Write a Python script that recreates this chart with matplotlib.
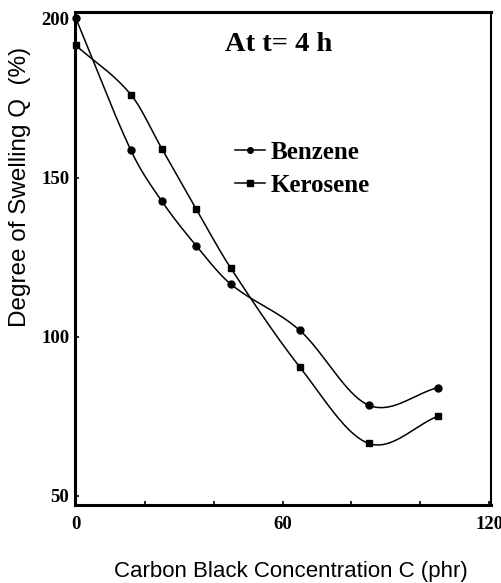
import numpy as np
import matplotlib
matplotlib.use("Agg")
import matplotlib.pyplot as plt
from matplotlib.lines import Line2D

# Carbon black loading (phr) and degree of swelling after 4 h
conc = [0, 16, 25, 35, 45, 65, 85, 105]
benzene = [200, 158.5, 142.5, 128.5, 116.5, 102, 78.5, 84]
kerosene = [191.5, 176, 159, 140, 121.5, 90.5, 66.5, 75]

x_ticks = [0, 60, 120]
y_ticks = [50, 100, 150, 200]


def smooth(x, y, n=40):
    # Catmull-Rom style cubic Hermite through the measured points
    x = np.asarray(x, float)
    y = np.asarray(y, float)
    m = np.zeros_like(y)
    m[1:-1] = (y[2:] - y[:-2]) / (x[2:] - x[:-2])
    m[0] = (y[1] - y[0]) / (x[1] - x[0])
    m[-1] = (y[-1] - y[-2]) / (x[-1] - x[-2])
    xs, ys = [], []
    for i in range(len(x) - 1):
        h = x[i + 1] - x[i]
        t = np.linspace(0, 1, n)
        h00 = 2 * t**3 - 3 * t**2 + 1
        h10 = t**3 - 2 * t**2 + t
        h01 = -2 * t**3 + 3 * t**2
        h11 = t**3 - t**2
        xs.append(x[i] + t * h)
        ys.append(h00 * y[i] + h10 * h * m[i] + h01 * y[i + 1] + h11 * h * m[i + 1])
    return np.concatenate(xs), np.concatenate(ys)


serif = "Liberation Serif"
sans = "Liberation Sans"

fig = plt.figure(figsize=(5.02, 5.83), dpi=100)
ax = fig.add_axes([0.149, 0.134, 0.829, 0.845])

for yv, mk in ((benzene, "o"), (kerosene, "s")):
    sx, sy = smooth(conc, yv)
    ax.plot(sx, sy, color="black", lw=1.1)
    ax.plot(conc, yv, ls="none", marker=mk, ms=5, color="black", clip_on=False)

ax.set_xlim(-0.3, 120.5)
ax.set_ylim(47.2, 201.9)
ax.set_xticks(x_ticks)
ax.set_yticks(y_ticks)
ax.set_xticks([20, 40, 80, 100], minor=True)
ax.tick_params(direction="in", length=3, width=1.2, labelsize=13.5)
ax.tick_params(axis="y", pad=4)
ax.tick_params(axis="x", pad=8)
ax.tick_params(which="minor", direction="in", length=3, width=1.2)
for lab in ax.get_xticklabels() + ax.get_yticklabels():
    lab.set_fontfamily(serif)
    lab.set_fontweight("bold")

for side in ax.spines:
    ax.spines[side].set_linewidth(2.2)
ax.spines["right"].set_linewidth(1.5)

ax.set_xlabel("Carbon Black Concentration C (phr)", fontfamily=sans,
              fontsize=16)
ax.xaxis.set_label_coords(0.52, -0.113)
ax.set_ylabel("Degree of Swelling Q  (%)", fontfamily=sans, fontsize=17.5)
ax.yaxis.set_label_coords(-0.106, 0.645)

ax.text(0.36, 0.935, "At t= 4 h", transform=ax.transAxes, fontfamily=serif,
        fontweight="bold", fontsize=20.5, va="center", ha="left")

handles = [
    Line2D([], [], color="black", lw=1.1, marker="o", ms=4),
    Line2D([], [], color="black", lw=1.1, marker="s", ms=4),
]
ax.legend(handles, ["Benzene", "Kerosene"], loc="upper left",
          bbox_to_anchor=(0.33, 0.785), frameon=False, handlelength=1.2,
          handletextpad=0.25, labelspacing=0.4,
          prop={"family": serif, "weight": "bold", "size": 18})

fig.savefig("out.png", dpi=100)
